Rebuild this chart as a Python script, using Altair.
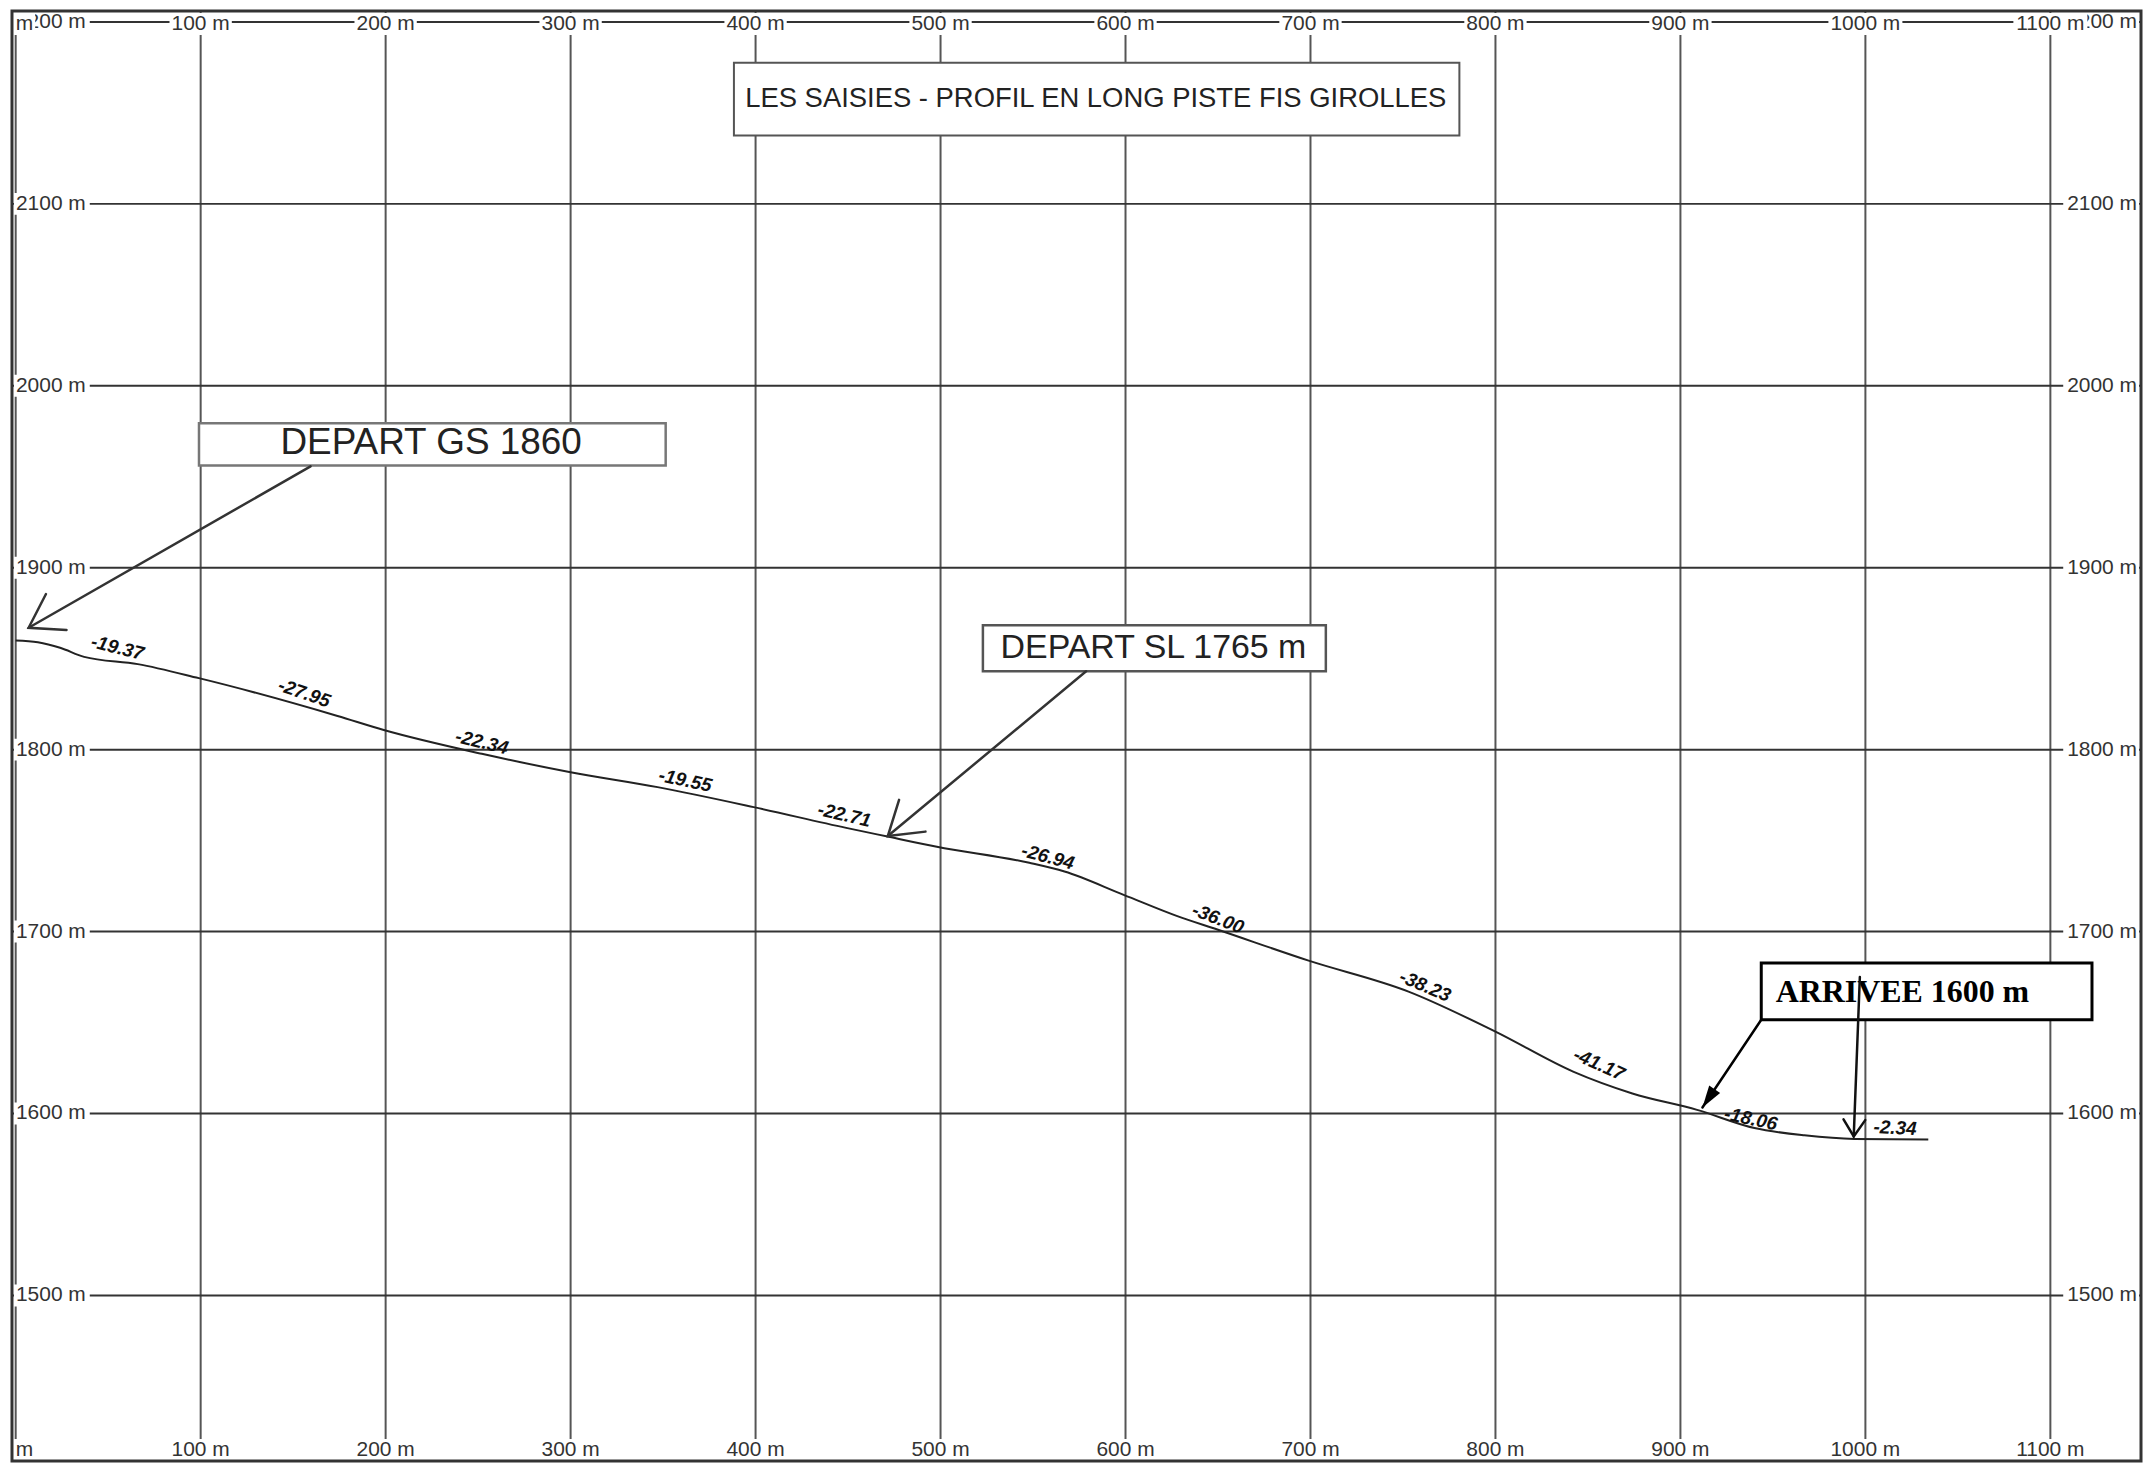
import math
import altair as alt
import pandas as pd

# ---------------- data ----------------
# longitudinal profile: distance (m) / altitude (m)
dist_m = [0, 12, 24, 37, 66, 99, 174, 199, 252, 300, 347, 399, 449, 472, 498,
          548, 567, 599, 628, 650, 699, 753, 800, 842, 874, 909, 940, 967, 994, 1034]
elev_m = [1860, 1859, 1856, 1851, 1847, 1839.3, 1818.5, 1810.8, 1797.7, 1787.6,
          1779.4, 1768.4, 1757, 1752.1, 1746.6, 1737.8, 1733, 1720.2, 1708.5, 1701,
          1684, 1667, 1645, 1623, 1611, 1602, 1592, 1588, 1586, 1585.7]

# slope labels (percent) written along the profile
slope_text = ["-19.37", "-27.95", "-22.34", "-19.55", "-22.71", "-26.94",
              "-36.00", "-38.23", "-41.17", "-18.06", "-2.34"]
slope_x = [55, 156, 252, 362, 448, 558, 650, 762, 856, 938, 1016]
slope_y = [1856, 1831, 1804, 1783, 1764, 1741, 1707, 1670, 1627, 1597, 1592]
slope_angle = [14, 19, 14, 12, 13, 15, 21, 23, 24, 12, 3]

# grid / tick labels
x_ticks = [0, 100, 200, 300, 400, 500, 600, 700, 800, 900, 1000, 1100]
x_tick_labels = ["0 m", "100 m", "200 m", "300 m", "400 m", "500 m", "600 m",
                 "700 m", "800 m", "900 m", "1000 m", "1100 m"]
y_ticks = [1500, 1600, 1700, 1800, 1900, 2000, 2100, 2200]
y_tick_labels = ["1500 m", "1600 m", "1700 m", "1800 m", "1900 m", "2000 m",
                 "2100 m", "2200 m"]

# annotation boxes (data units)
box_name = ["title", "gs", "sl", "arrivee"]
box_x1 = [388.3, 99.1, 522.9, 943.7]
box_x2 = [780.5, 351.4, 708.3, 1122.5]
box_y1 = [2177.6, 1979.4, 1868.4, 1682.7]
box_y2 = [2137.6, 1956.2, 1843.1, 1651.5]
box_color = ["#555555", "#777777", "#555555", "#000000"]
box_width = [2, 2.5, 2.5, 3]

title_text = "LES SAISIES - PROFIL EN LONG PISTE FIS GIROLLES"
title_pos = (583.9, 2157.9)
gs_text = "DEPART GS 1860"
gs_pos = (224.6, 1968.8)
sl_text = "DEPART SL 1765 m"
sl_pos = (615.1, 1855.9)
arr_text = "ARRIVEE 1600 m"
arr_pos = (951.5, 1661.4)

# arrows: from -> tip (data units)
arrow_x_from = [159.4, 578.7, 943.7, 997.0]
arrow_y_from = [1955.7, 1843.1, 1651.5, 1675.0]
arrow_x_to = [7.0, 471.5, 911.9, 993.7]
arrow_y_to = [1867.0, 1752.5, 1603.3, 1587.4]
arrow_color = ["#333333", "#333333", "#000000", "#111111"]
arrow_filled = [False, False, True, False]

# ---------------- layout ----------------
W, H = 2135, 1454
X_DOMAIN = [-2, 1149]
Y_DOMAIN = [1409, 2206]
PX_X = W / (X_DOMAIN[1] - X_DOMAIN[0])
PX_Y = H / (Y_DOMAIN[1] - Y_DOMAIN[0])

SANS = "Liberation Sans, Arial, sans-serif"
SERIF = "Liberation Serif, Times New Roman, serif"

xs = alt.Scale(domain=X_DOMAIN, nice=False, zero=False)
ys = alt.Scale(domain=Y_DOMAIN, nice=False, zero=False)


def X(f):
    return alt.X(f"{f}:Q", scale=xs, axis=None)


def Y(f):
    return alt.Y(f"{f}:Q", scale=ys, axis=None)


def box_path(w, h):
    r = h / w
    return f"M-1,-{r:.4f}L1,-{r:.4f}L1,{r:.4f}L-1,{r:.4f}Z"


# gridlines
vgrid = alt.Chart(pd.DataFrame({"x": x_ticks})).mark_rule(
    color="#555555", strokeWidth=2
).encode(x=X("x"), y=alt.value(0), y2=alt.value(H))

hgrid = alt.Chart(pd.DataFrame({"y": y_ticks})).mark_rule(
    color="#333333", strokeWidth=2
).encode(y=Y("y"), x=alt.value(0), x2=alt.value(W))

# y labels (left and right) with white backgrounds
FS = 21
ydf = pd.DataFrame({"y": y_ticks, "label": y_tick_labels})
ybw = 76
ybg_left = alt.Chart(ydf).mark_point(
    shape=box_path(ybw, 22), size=ybw * ybw, filled=True, fill="white",
    opacity=1, strokeWidth=0
).encode(x=alt.value(2 + ybw / 2), y=Y("y"))
ybg_right = alt.Chart(ydf).mark_point(
    shape=box_path(ybw, 22), size=ybw * ybw, filled=True, fill="white",
    opacity=1, strokeWidth=0
).encode(x=alt.value(W - 2 - ybw / 2), y=Y("y"))
ytxt_left = alt.Chart(ydf).mark_text(
    align="left", baseline="middle", font=SANS, fontSize=FS, color="#333333"
).encode(x=alt.value(4), y=Y("y"), text="label:N")
ytxt_right = alt.Chart(ydf).mark_text(
    align="right", baseline="middle", font=SANS, fontSize=FS, color="#333333"
).encode(x=alt.value(W - 4), y=Y("y"), text="label:N")

# x labels (top and bottom)
xw = [len(s) * 11.7 + 4 for s in x_tick_labels]
xdf = pd.DataFrame({
    "x": x_ticks,
    "label": x_tick_labels,
    "p": [box_path(w, 22) for w in xw],
    "s": [w * w for w in xw],
})


def xlabels(ypix):
    bg = alt.Chart(xdf).mark_point(
        filled=True, fill="white", opacity=1, strokeWidth=0, clip=True
    ).encode(
        x=X("x"), y=alt.value(ypix),
        shape=alt.Shape("p:N", scale=None),
        size=alt.Size("s:Q", scale=None),
    )
    tx = alt.Chart(xdf).mark_text(
        align="center", baseline="middle", font=SANS, fontSize=FS,
        color="#333333", clip=True
    ).encode(x=X("x"), y=alt.value(ypix), text="label:N")
    return bg + tx


xlab_top = xlabels(13)
xlab_bottom = xlabels(H - 11)

# profile line
profile = alt.Chart(pd.DataFrame({"d": dist_m, "e": elev_m})).mark_line(
    color="#222222", strokeWidth=2, interpolate="monotone"
).encode(x=X("d"), y=Y("e"))

slopes = alt.Chart(pd.DataFrame({
    "x": slope_x, "y": slope_y, "t": slope_text, "a": slope_angle
})).mark_text(
    font=SANS, fontSize=19, fontWeight="bold", fontStyle="italic",
    color="#111111", baseline="middle", align="center"
).encode(x=X("x"), y=Y("y"), text="t:N", angle=alt.Angle("a:Q", scale=None))

# boxes
boxes = alt.Chart(pd.DataFrame({
    "n": box_name, "x1": box_x1, "x2": box_x2, "y1": box_y1, "y2": box_y2,
    "c": box_color, "w": box_width
})).mark_rect(fill="white").encode(
    x=X("x1"), x2=alt.X2("x2"), y=Y("y1"), y2=alt.Y2("y2"),
    stroke=alt.Stroke("c:N", scale=None),
    strokeWidth=alt.StrokeWidth("w:Q", scale=None),
)


def one_text(txt, pos, **kw):
    return alt.Chart(pd.DataFrame({"x": [pos[0]], "y": [pos[1]], "t": [txt]})).mark_text(
        **kw
    ).encode(x=X("x"), y=Y("y"), text="t:N")


t_title = one_text(title_text, title_pos, font=SANS, fontSize=27.5, color="#222222",
                   align="center", baseline="middle")
t_gs = one_text(gs_text, gs_pos, font=SANS, fontSize=37, color="#222222",
                align="center", baseline="middle")
t_sl = one_text(sl_text, sl_pos, font=SANS, fontSize=34, color="#222222",
                align="center", baseline="middle")
t_arr = one_text(arr_text, arr_pos, font=SERIF, fontSize=32, fontWeight="bold",
                 color="#000000", align="left", baseline="alphabetic")

# arrows
adf = pd.DataFrame({
    "x1": arrow_x_from, "y1": arrow_y_from, "x2": arrow_x_to, "y2": arrow_y_to,
    "c": arrow_color, "f": arrow_filled,
})


def head_angle(r):
    dx = (r["x2"] - r["x1"]) * PX_X
    dy = -(r["y2"] - r["y1"]) * PX_Y
    return math.degrees(math.atan2(dx, -dy)) % 360


adf["ang"] = adf.apply(head_angle, axis=1)
OPEN_HEAD = "M-0.545,0.839L0,0L0.545,0.839"
FILLED_HEAD = "M-0.3,1L0,0L0.3,1Z"
adf["p"] = [FILLED_HEAD if f else OPEN_HEAD for f in arrow_filled]
adf["s"] = [44 * 44 if f else (76 * 76 if i < 2 else 40 * 40)
            for i, f in enumerate(arrow_filled)]
adf["w"] = [2.5, 2.5, 2.5, 2.5]

shafts = alt.Chart(adf).mark_rule(strokeCap="round").encode(
    x=X("x1"), y=Y("y1"), x2=alt.X2("x2"), y2=alt.Y2("y2"),
    color=alt.Color("c:N", scale=None),
    strokeWidth=alt.StrokeWidth("w:Q", scale=None),
)

heads_open = alt.Chart(adf).transform_filter("!datum.f").mark_point(
    filled=False, opacity=1, strokeWidth=2.5, strokeCap="round"
).encode(
    x=X("x2"), y=Y("y2"),
    shape=alt.Shape("p:N", scale=None),
    size=alt.Size("s:Q", scale=None),
    angle=alt.Angle("ang:Q", scale=None),
    color=alt.Color("c:N", scale=None),
)
heads_filled = alt.Chart(adf).transform_filter("datum.f").mark_point(
    filled=True, opacity=1, strokeWidth=0
).encode(
    x=X("x2"), y=Y("y2"),
    shape=alt.Shape("p:N", scale=None),
    size=alt.Size("s:Q", scale=None),
    angle=alt.Angle("ang:Q", scale=None),
    color=alt.Color("c:N", scale=None),
)

frame = alt.Chart(pd.DataFrame({"k": [0]})).mark_rect(
    fillOpacity=0, stroke="#333333", strokeWidth=3
).encode(x=alt.value(0), x2=alt.value(W), y=alt.value(0), y2=alt.value(H))

chart = alt.layer(
    vgrid, hgrid,
    ybg_left, ybg_right, ytxt_left, ytxt_right,
    xlab_top, xlab_bottom,
    profile, slopes,
    boxes, t_title, t_gs, t_sl, t_arr,
    shafts, heads_open, heads_filled,
    frame,
).properties(
    width=W, height=H,
    padding={"left": 4, "top": 1, "right": 2, "bottom": 0},
    autosize=alt.AutoSizeParams(type="none"),
    background="white",
).configure_view(strokeWidth=0)

chart.save("out.html", embed_options={"renderer": "svg", "actions": False})
